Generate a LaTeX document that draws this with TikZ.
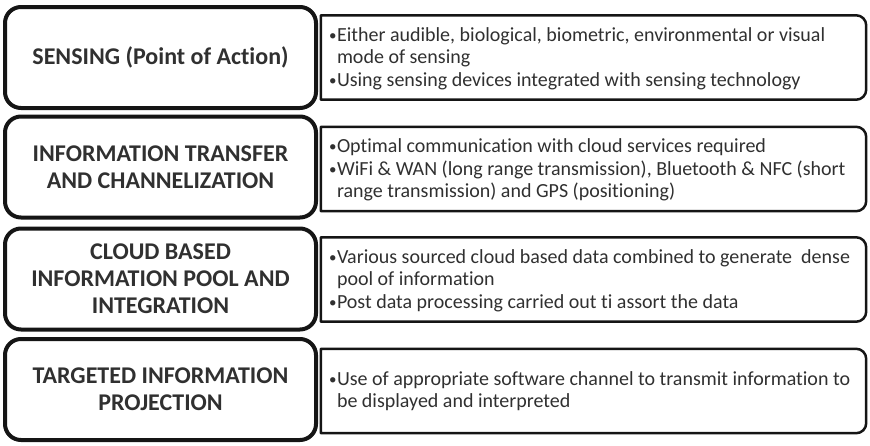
\documentclass[tikz,border=0pt]{standalone}
\usepackage{fontspec}
\setmainfont{Carlito}[Ligatures=NoCommon]
\definecolor{inkline}{HTML}{151515}
\definecolor{inktext}{HTML}{303030}
\tikzset{
  x=1pt, y=1pt,
  stagebox/.style={draw=inkline, line width=4pt, rounded corners=16pt,
    minimum width=311pt, minimum height=101pt, inner sep=0pt,
    align=center, text=inktext,
    font=\bfseries\fontsize{24}{27}\selectfont},
  notebox/.style={minimum width=545pt, minimum height=84pt, inner sep=0pt},
  noteline/.style={draw=inkline, line width=2.5pt, line join=round},
  notetext/.style={anchor=west, inner sep=0pt, align=left, text=inktext,
    font=\fontsize{20}{22}\selectfont}
}
\newcommand{\bul}{\makebox[8pt][l]{\raisebox{1pt}{\scalebox{0.75}{\textbullet}}}}
\newcommand{\hang}{\hspace*{8pt}}
\begin{document}
\begin{tikzpicture}
\useasboundingbox (0,0) rectangle (870,-445);

% right-hand note frames (square on the left, rounded on the right)
\node[notebox] (r1) at (593.5,-57.5) {};
\node[notebox] (r2) at (593.5,-169) {};
\node[notebox] (r3) at (593.5,-279.5) {};
\node[notebox] (r4) at (593.5,-391) {};
\foreach \r in {r1,r2,r3,r4}{
  \draw[noteline] (\r.north west) -- ([xshift=-10pt]\r.north east)
    arc[start angle=90,end angle=0,radius=10pt]
    -- ([yshift=10pt]\r.south east)
    arc[start angle=0,end angle=-90,radius=10pt]
    -- (\r.south west) -- cycle;
}

% stage boxes on the left
\node[stagebox, fill=white] (s1) at (160.5,-57.5) {SENSING (Point of Action)};
\node[stagebox, fill=white] (s2) at (160.5,-167) {INFORMATION TRANSFER\\AND CHANNELIZATION};
\node[stagebox, fill=white] (s3) at (160.5,-279) {CLOUD BASED\\INFORMATION POOL AND\\INTEGRATION};
\node[stagebox, fill=white] (s4) at (160.5,-389.5) {TARGETED INFORMATION\\PROJECTION};

% bullet texts
\node[notetext] (t1) at ([xshift=8pt,yshift=-1.5pt]r1.west) {%
  \bul Either audible, biological, biometric, environmental or visual\\
  \hang mode of sensing\\[1.5pt]
  \bul Using sensing devices integrated with sensing technology};
\node[notetext] (t2) at ([xshift=8pt,yshift=-0.5pt]r2.west) {%
  \bul Optimal communication with cloud services required\\[1pt]
  \bul WiFi \& WAN (long range transmission), Bluetooth \& NFC (short\\
  \hang range transmission) and GPS (positioning)};
\node[notetext] (t3) at ([xshift=8pt,yshift=-1.5pt]r3.west) {%
  \bul Various sourced cloud based data combined to generate\ \ dense\\
  \hang pool of information\\[1.5pt]
  \bul Post data processing carried out ti assort the data};
\node[notetext] (t4) at ([xshift=8pt]r4.west) {%
  \bul Use of appropriate software channel to transmit information to\\
  \hang be displayed and interpreted};
\end{tikzpicture}
\end{document}
